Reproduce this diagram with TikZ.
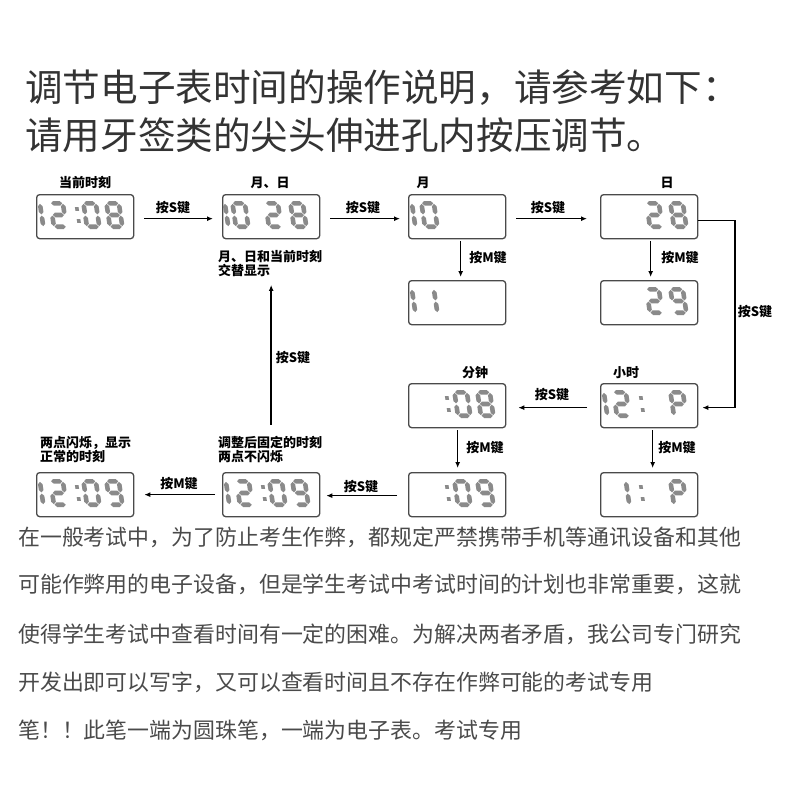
\documentclass[tikz,border=0pt]{standalone}
\usepackage{fontspec}
\newfontfamily\cjk{Noto Sans CJK SC}
\usetikzlibrary{arrows.meta,calc}
\definecolor{lcdgray}{HTML}{8A8A8A}
\definecolor{boxline}{HTML}{4A4A4A}
\definecolor{titlec}{HTML}{333333}
\definecolor{bodyc}{HTML}{4A4A4A}
\newcommand\lcdH[3]{\fill[lcdgray] (#1,#3) -- ({#1+2.3},{#3+2.3}) -- ({#2-2.3},{#3+2.3}) -- (#2,#3) -- ({#2-2.3},{#3-2.3}) -- ({#1+2.3},{#3-2.3}) -- cycle;}
\newcommand\lcdV[3]{\fill[lcdgray] (#1,#2) -- ({#1+2.3},{#2+2.3}) -- ({#1+2.3},{#3-2.3}) -- (#1,#3) -- ({#1-2.3},{#3-2.3}) -- ({#1-2.3},{#2+2.3}) -- cycle;}
\def\lcdsega{\lcdH{2.9}{14.1}{25.7}}
\def\lcdsegg{\lcdH{2.9}{14.1}{14}}
\def\lcdsegd{\lcdH{2.9}{14.1}{2.3}}
\def\lcdsegf{\lcdV{2.3}{14.6}{25.1}}
\def\lcdsege{\lcdV{2.3}{2.9}{13.4}}
\def\lcdsegb{\lcdV{14.7}{14.6}{25.1}}
\def\lcdsegc{\lcdV{14.7}{2.9}{13.4}}
\newcommand\lcdnum[3]{%
  \begin{scope}[shift={($(#1.north west)+(#2,35)$)}, yscale=-1, xslant=0.15]
    \foreach \s in {#3}{\csname lcdseg\s\endcsname}
  \end{scope}}
\newcommand\lcdcolon[2]{%
  \begin{scope}[shift={($(#1.north west)+(#2,35)$)}, yscale=-1, xslant=0.15]
    \fill[lcdgray] (-1.8,6.2) rectangle (1.8,9.8);
    \fill[lcdgray] (-1.8,18.2) rectangle (1.8,21.8);
  \end{scope}}
\tikzset{
  lcdbox/.style={draw=boxline, line width=1.3pt, rounded corners=3pt, minimum width=97pt,
    minimum height=44pt, inner sep=0pt, anchor=north west, fill=white},
  arr/.style={line width=1.4pt, -{Latex[length=6pt,width=5pt]}},
  klabel/.style={font=\cjk\bfseries\fontsize{13}{14}\selectfont, inner sep=0pt, text=black},
  note/.style={font=\cjk\bfseries\fontsize{13}{14}\selectfont, inner sep=0pt, align=left, anchor=west, text=black},
  titletext/.style={font=\cjk\fontsize{37.6}{40}\selectfont, inner sep=0pt, anchor=west, text=titlec},
  bodytext/.style={font=\cjk\fontsize{21.9}{24}\selectfont, inner sep=0pt, anchor=west, text=bodyc}
}
\begin{document}
\begin{tikzpicture}[x=1pt, y=-1pt]
\fill[white] (0,0) rectangle (800,800);
\useasboundingbox (0,0) rectangle (800,800);

% titles
\node[titletext] (t1) at (25,88) {调节电子表时间的操作说明，请参考如下：};
\node[titletext] (t2) at (25,135) {请用牙签类的尖头伸进孔内按压调节。};

% boxes
\node[lcdbox] (m1) at (36,194) {};
\node[lcdbox] (m2) at (222,194) {};
\node[lcdbox] (m3) at (408,194) {};
\node[lcdbox] (m4) at (600,194) {};
\node[lcdbox] (m5) at (408,280) {};
\node[lcdbox] (m6) at (600,280) {};
\node[lcdbox] (m7) at (408,383) {};
\node[lcdbox] (m8) at (600,383) {};
\node[lcdbox] (m9) at (408,472) {};
\node[lcdbox] (m10) at (600,472) {};
\node[lcdbox] (m11) at (222,472) {};
\node[lcdbox] (m12) at (36,472) {};

% digits
\lcdnum{m1}{-7}{b,c}\lcdnum{m1}{16}{a,b,g,e,d}\lcdcolon{m1}{44}\lcdnum{m1}{49}{a,b,c,d,e,f}\lcdnum{m1}{72}{a,b,c,d,e,f,g}
\lcdnum{m2}{-8}{b,c}\lcdnum{m2}{12}{a,b,c,d,e,f}\lcdnum{m2}{45}{a,b,g,e,d}\lcdnum{m2}{70}{a,b,c,d,e,f,g}
\lcdnum{m3}{-7}{b,c}\lcdnum{m3}{15}{a,b,c,d,e,f}
\lcdnum{m4}{48}{a,b,g,e,d}\lcdnum{m4}{72}{a,b,c,d,e,f,g}
\lcdnum{m5}{-7}{b,c}\lcdnum{m5}{15}{b,c}
\lcdnum{m6}{48}{a,b,g,e,d}\lcdnum{m6}{72}{a,b,c,d,f,g}
\lcdcolon{m7}{42}\lcdnum{m7}{48}{a,b,c,d,e,f}\lcdnum{m7}{71}{a,b,c,d,e,f,g}
\lcdnum{m8}{-7}{b,c}\lcdnum{m8}{15}{a,b,g,e,d}\lcdcolon{m8}{44}\lcdnum{m8}{72}{a,b,f,g,e}
\lcdcolon{m9}{42}\lcdnum{m9}{48}{a,b,c,d,e,f}\lcdnum{m9}{71}{a,b,c,d,f,g}
\lcdnum{m10}{15}{b,c}\lcdcolon{m10}{44}\lcdnum{m10}{72}{a,b,f,g,e}
\lcdnum{m11}{-7}{b,c}\lcdnum{m11}{16}{a,b,g,e,d}\lcdcolon{m11}{44}\lcdnum{m11}{49}{a,b,c,d,e,f}\lcdnum{m11}{72}{a,b,c,d,f,g}
\lcdnum{m12}{-7}{b,c}\lcdnum{m12}{16}{a,b,g,e,d}\lcdcolon{m12}{44}\lcdnum{m12}{49}{a,b,c,d,e,f}\lcdnum{m12}{72}{a,b,c,d,f,g}

% labels above boxes
\node[klabel] (l1) at (85,183) {当前时刻};
\node[klabel] (l2) at (270,183) {月、日};
\node[klabel] (l3) at (423,183) {月};
\node[klabel] (l4) at (667,183) {日};
\node[klabel] (l7) at (475,373) {分钟};
\node[klabel] (l8) at (626,373) {小时};
\node[note] (alt) at (218,263.5) {月、日和当前时刻\\交替显示};
\node[note] (blink) at (40,450) {两点闪烁，显示\\正常的时刻};
\node[note] (adj) at (218,450) {调整后固定的时刻\\两点不闪烁};

% connectors
\draw[arr, shorten <=10pt, shorten >=9pt] ([yshift=-2pt]m1.east) -- ([yshift=-2pt]m2.west);
\draw[arr, shorten <=10pt, shorten >=8pt] ([yshift=-2pt]m2.east) -- ([yshift=-2pt]m3.west);
\draw[arr, shorten <=10pt, shorten >=13pt] ([yshift=-2pt]m3.east) -- ([yshift=-2pt]m4.west);
\draw[arr, shorten <=2pt, shorten >=3pt] ([xshift=3.5pt]m3.south) -- ([xshift=3.5pt]m5.north);
\draw[arr, shorten <=2pt, shorten >=3pt] ([xshift=1.5pt]m4.south) -- ([xshift=1.5pt]m6.north);
\coordinate (rc) at (735,300);
\draw[arr] ([yshift=-4pt]m4.east) -- ([yshift=-4pt]m4.east -| rc) -- ([yshift=-2pt]m8.east -| rc) -- ([yshift=-2pt,xshift=4pt]m8.east);
\draw[arr, shorten <=13pt, shorten >=12pt] ([yshift=-2pt]m8.west) -- ([yshift=-2pt]m7.east);
\draw[arr, shorten <=2pt, shorten >=4pt] ([xshift=0.5pt]m7.south) -- ([xshift=0.5pt]m9.north);
\draw[arr, shorten <=2pt, shorten >=4pt] ([xshift=3.5pt]m8.south) -- ([xshift=3.5pt]m10.north);
\draw[arr, shorten <=11pt, shorten >=6pt] ([yshift=-1pt]m9.west) -- ([yshift=-1pt]m11.east);
\draw[arr, shorten <=7pt, shorten >=10pt] (m11.west) -- (m12.east);
\draw[arr, shorten <=12pt, shorten >=8pt] (adj.north -| m2.center) -- (alt.south -| m2.center);

% connector labels
\node[klabel] at (173,208) {按S键};
\node[klabel] at (363,208) {按S键};
\node[klabel] at (548,208) {按S键};
\node[klabel] at (488,258) {按M键};
\node[klabel] at (680,258) {按M键};
\node[klabel] at (755,312) {按S键};
\node[klabel] at (552,395) {按S键};
\node[klabel] at (485,448) {按M键};
\node[klabel] at (677,448) {按M键};
\node[klabel] at (361,487) {按S键};
\node[klabel] at (179,484) {按M键};
\node[klabel] at (293,358) {按S键};

% body text
\node[bodytext] (p1) at (18,537) {在一般考试中，为了防止考生作弊，都规定严禁携带手机等通讯设备和其他};
\node[bodytext] (p2) at (18,584) {可能作弊用的电子设备，但是学生考试中考试时间的计划也非常重要，这就};
\node[bodytext] (p3) at (18,634) {使得学生考试中查看时间有一定的困难。为解决两者矛盾，我公司专门研究};
\node[bodytext] (p4) at (18,682) {开发出即可以写字，又可以查看时间且不存在作弊可能的考试专用};
\node[bodytext] (p5) at (18,730) {笔！！此笔一端为圆珠笔，一端为电子表。考试专用};
\end{tikzpicture}
\end{document}
